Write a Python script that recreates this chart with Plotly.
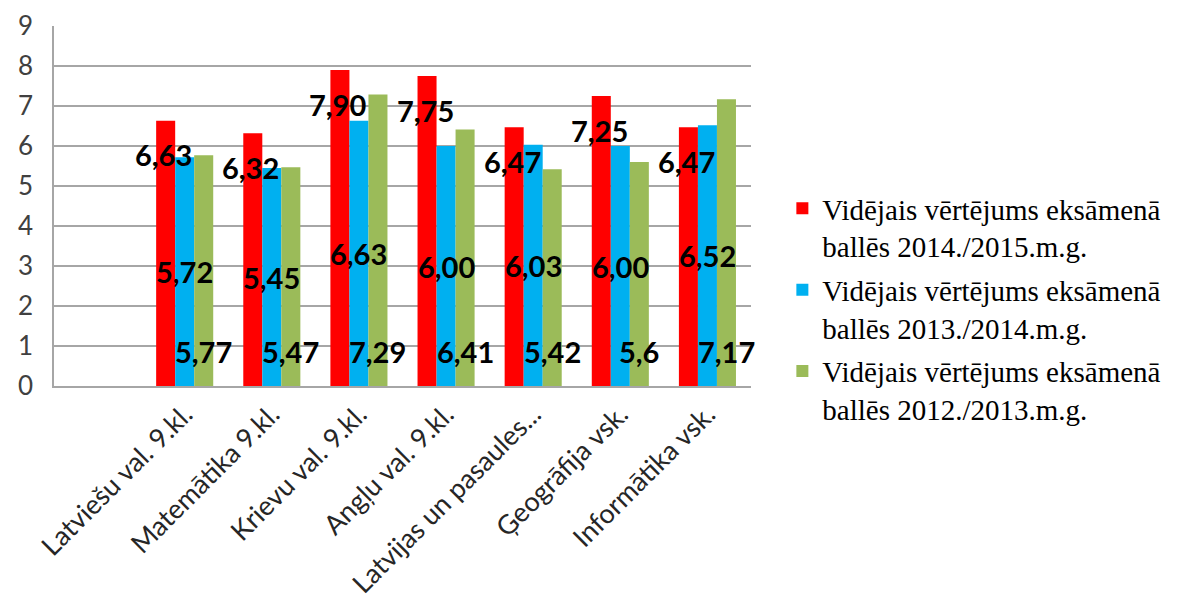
import plotly.graph_objects as go

categories = ["Latviešu val. 9.kl.", "Matemātika 9.kl.", "Krievu val. 9.kl.",
              "Angļu val. 9.kl.", "Latvijas un pasaules...", "Ģeogrāfija vsk.",
              "Informātika vsk."]
vals_2015 = [6.63, 6.32, 7.90, 7.75, 6.47, 7.25, 6.47]
vals_2014 = [5.72, 5.45, 6.63, 6.00, 6.03, 6.00, 6.52]
vals_2013 = [5.77, 5.47, 7.29, 6.41, 5.42, 5.6, 7.17]
labels_2015 = ["6,63", "6,32", "7,90", "7,75", "6,47", "7,25", "6,47"]
labels_2014 = ["5,72", "5,45", "6,63", "6,00", "6,03", "6,00", "6,52"]
labels_2013 = ["5,77", "5,47", "7,29", "6,41", "5,42", "5,6", "7,17"]
series_names = ["Vidējais vērtējums eksāmenā<br>ballēs 2014./2015.m.g.",
                "Vidējais vērtējums eksāmenā<br>ballēs 2013./2014.m.g.",
                "Vidējais vērtējums eksāmenā<br>ballēs 2012./2013.m.g."]
colors = ["#FF0000", "#00B0F0", "#9BBB59"]

fig = go.Figure()
for i, (vals, name, col) in enumerate(zip([vals_2015, vals_2014, vals_2013],
                                          series_names, colors)):
    fig.add_trace(go.Bar(x=categories, y=vals, name=name, marker_color=col,
                         marker_line_width=0, legendgroup="g%d" % i))

label_font = dict(family="Lato", size=29, color="#000000")
bw = 19
for cat, v, t in zip(categories, vals_2015, labels_2015):
    fig.add_annotation(x=cat, y=v, text="<b>%s</b>" % t, showarrow=False,
                       xshift=-bw - 2, yshift=-34, yanchor="middle", font=label_font)
for cat, v, t in zip(categories, vals_2014, labels_2014):
    fig.add_annotation(x=cat, y=v / 2, text="<b>%s</b>" % t, showarrow=False,
                       xshift=0, yanchor="middle", font=label_font)
for cat, v, t in zip(categories, vals_2013, labels_2013):
    fig.add_annotation(x=cat, y=0, text="<b>%s</b>" % t, showarrow=False,
                       xshift=bw, yshift=35, yanchor="middle", font=label_font)

# page body adds an 8px offset, so the figure is sized to fit the window
fig.update_layout(
    width=1182, height=593,
    margin=dict(l=46, r=439, t=18, b=215, autoexpand=False),
    paper_bgcolor="white", plot_bgcolor="white",
    barmode="group", bargap=0.345, bargroupgap=0,
    showlegend=True,
    legend=dict(x=1.045, y=0.564, xanchor="left", yanchor="top",
                font=dict(family="Liberation Serif", size=29, color="#000000"),
                valign="top", bgcolor="rgba(0,0,0,0)", tracegroupgap=3),
)
fig.update_xaxes(type="category", range=[-1.5, 6.5], tickangle=-45,
                 automargin=False,
                 showline=True, linecolor="#A6A6A6", linewidth=1.5,
                 showgrid=False, ticks="",
                 tickfont=dict(family="Lato", size=27, color="#262626"))
fig.update_yaxes(range=[0, 9], dtick=1, showgrid=True, gridcolor="#A6A6A6",
                 automargin=False,
                 gridwidth=1.5, showline=True, linecolor="#A6A6A6", linewidth=1.5,
                 zeroline=False, ticks="", ticklabelstandoff=14,
                 tickfont=dict(family="Lato", size=26, color="#404040"))

fig.write_html("out.html")
